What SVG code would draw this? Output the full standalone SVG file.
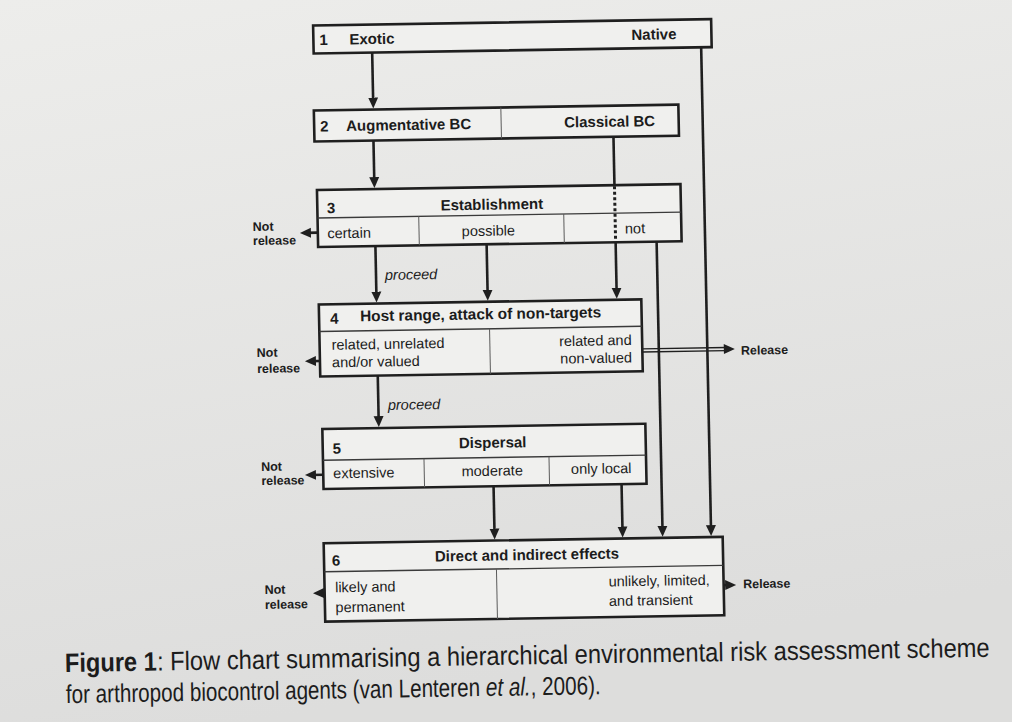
<svg xmlns="http://www.w3.org/2000/svg" width="1012" height="722" viewBox="0 0 1012 722">
<defs>
<linearGradient id="paper" x1="0" y1="0" x2="0.25" y2="1">
<stop offset="0" stop-color="#ededeb"/>
<stop offset="1" stop-color="#dddddc"/>
</linearGradient>
<marker id="ah" markerUnits="userSpaceOnUse" markerWidth="12" markerHeight="12" refX="5" refY="5" orient="auto" viewBox="0 0 12 10">
<path d="M0,0 L11,5 L0,10 z" fill="#1f1f1f"/>
</marker>
<style>
.box{fill:#f0f0ee;stroke:#1f1f1f;stroke-width:2.6}
.hd{stroke:#3a3a3a;stroke-width:1.4}
.dv{stroke:#5a5a5a;stroke-width:1}
.c{stroke:#1f1f1f;stroke-width:2.6;fill:none}
.ca{stroke:#1f1f1f;stroke-width:2.6;fill:none;marker-end:url(#ah)}
.dd{stroke:#1f1f1f;stroke-width:1.3;fill:none}
.dot{stroke:#1f1f1f;stroke-width:3;stroke-dasharray:3 2.5;fill:none}
text{font-family:"Liberation Sans",Arial,sans-serif;fill:#1c1c1c}
.b{font-weight:bold;font-size:15px}
.r{font-size:14.5px}
.s{font-weight:bold;font-size:12.5px}
.i{font-style:italic;font-size:14.5px}
.m{text-anchor:middle}
.e{text-anchor:end}
.c1{font-size:23.7px}
.c2{font-size:20.7px}
</style>
</defs>
<rect width="1012" height="722" fill="url(#paper)"/>
<g transform="matrix(1,-0.016,0.0204,1,-7.36,8.10)">
<g id="connectors">
<path class="ca" d="M378.5,50.5 V100.5"/>
<path class="ca" d="M378,138.5 V180"/>
<path class="c" d="M618,138.5 V187"/>
<path class="ca" d="M618,244 V294.5"/>
<path class="ca" d="M707.5,50.5 V533.3"/>
<path class="ca" d="M377.8,244 V294.5"/>
<path class="ca" d="M489,244 V294.5"/>
<path class="ca" d="M659,244 V533.3"/>
<path class="ca" d="M377.5,373.5 V419"/>
<path class="ca" d="M491,486 V533.3"/>
<path class="ca" d="M619,486 V533.3"/>
<path class="ca" d="M320.5,229.7 H308.6"/>
<path class="ca" d="M320,358 H311"/>
<path class="ca" d="M321,471.8 H308.7"/>
<path class="ca" d="M320,590 H314.3"/>
<path class="dd" d="M642.5,351 H726 M642.5,354.2 H726"/>
<polygon points="724,347.6 735,352.6 724,357.6" fill="#1f1f1f"/>
<path class="ca" d="M719,588.5 H725.5"/>
<text class="i" x="386.7" y="278">proceed</text>
<text class="i" x="387" y="408">proceed</text>
</g>
<g id="n1">
<rect class="box" x="320" y="22.5" width="398" height="28"/>
<text class="b" x="326" y="42">1</text>
<text class="b" x="356" y="42">Exotic</text>
<text class="b e" x="683" y="42">Native</text>
</g>
<g id="n2">
<rect class="box" x="319" y="107.5" width="364.5" height="31"/>
<line class="dv" x1="506" y1="107.5" x2="506" y2="138.5"/>
<text class="b" x="325" y="128.5">2</text>
<text class="b" x="351" y="128.5">Augmentative BC</text>
<text class="b" x="569" y="128.5">Classical BC</text>
</g>
<g id="n3">
<rect class="box" x="320.5" y="187" width="363.5" height="57"/>
<line class="hd" x1="320.5" y1="215" x2="684" y2="215"/>
<line class="dv" x1="421.7" y1="215" x2="421.7" y2="244"/>
<line class="dv" x1="566.7" y1="215" x2="566.7" y2="244"/>
<path class="dot" d="M618,188 V243"/>
<text class="b" x="330" y="210.5">3</text>
<text class="b m" x="495" y="209.5">Establishment</text>
<text class="r" x="330" y="235.5">certain</text>
<text class="r m" x="491" y="235.5">possible</text>
<text class="r" x="627.6" y="235.5">not</text>
</g>
<g id="n4">
<rect class="box" x="320" y="301.5" width="322.5" height="72"/>
<line class="hd" x1="320" y1="328.5" x2="642.5" y2="328.5"/>
<line class="dv" x1="490.2" y1="328.5" x2="490.2" y2="373.5"/>
<text class="b" x="331" y="321">4</text>
<text class="b" x="361" y="319" style="font-size:15.4px">Host range, attack of non-targets</text>
<text class="r" x="332" y="347">related, unrelated</text>
<text class="r" x="332" y="364.5">and/or valued</text>
<text class="r e" x="632" y="347">related and</text>
<text class="r e" x="632" y="364.5">non-valued</text>
</g>
<g id="n5">
<rect class="box" x="321" y="426" width="323" height="60"/>
<line class="hd" x1="321" y1="457.3" x2="644" y2="457.3"/>
<line class="dv" x1="422" y1="457.3" x2="422" y2="486"/>
<line class="dv" x1="547" y1="457.3" x2="547" y2="486"/>
<text class="b" x="331" y="451">5</text>
<text class="b m" x="491" y="447.5">Dispersal</text>
<text class="r" x="331" y="475.5">extensive</text>
<text class="r m" x="490" y="475.5">moderate</text>
<text class="r m" x="599" y="475">only local</text>
</g>
<g id="n6">
<rect class="box" x="320" y="540.3" width="399" height="78.4"/>
<line class="hd" x1="320" y1="568.8" x2="719" y2="568.8"/>
<line class="dv" x1="492.2" y1="568.8" x2="492.2" y2="618.7"/>
<text class="b" x="328" y="563">6</text>
<text class="b m" x="523" y="560.3">Direct and indirect effects</text>
<text class="r" x="330.5" y="589.5">likely and</text>
<text class="r" x="330.5" y="609.5">permanent</text>
<text class="r" x="604" y="588">unlikely, limited,</text>
<text class="r" x="604" y="607.5">and transient</text>
</g>
<g id="out3"><text class="s" x="255.5" y="227">Not</text><text class="s" x="255.5" y="241">release</text></g>
<g id="out4"><text class="s" x="257" y="353">Not</text><text class="s" x="257" y="369">release</text></g>
<g id="out5"><text class="s" x="259" y="467">Not</text><text class="s" x="259" y="481">release</text></g>
<g id="out6"><text class="s" x="260" y="590">Not</text><text class="s" x="260" y="605">release</text></g>
<g id="rel4"><text class="s" x="741" y="358.5">Release</text></g>
<g id="rel6"><text class="s" x="738.5" y="592">Release</text></g>
</g>
<g id="caption">
<g transform="translate(65,672) rotate(-0.95) scale(1,1.12)">
<text class="c1" x="0" y="0" font-weight="bold" textLength="92" lengthAdjust="spacingAndGlyphs">Figure 1</text>
<text class="c1" x="92.2" y="0" textLength="263.5" lengthAdjust="spacingAndGlyphs">: Flow chart summarising</text>
<text class="c1" x="362.3" y="0" textLength="296.5" lengthAdjust="spacingAndGlyphs">a hierarchical environmental</text>
<text class="c1" x="665.4" y="0" textLength="259.5" lengthAdjust="spacingAndGlyphs">risk assessment scheme</text>
</g>
<g transform="translate(66,703) rotate(-0.95) scale(1,1.24)">
<text class="c2" x="0" y="0" textLength="213.5" lengthAdjust="spacingAndGlyphs">for arthropod biocontrol</text>
<text class="c2" x="219.2" y="0" textLength="195" lengthAdjust="spacingAndGlyphs">agents (van Lenteren</text>
<text class="c2" x="420.1" y="0" font-style="italic" textLength="44.8" lengthAdjust="spacingAndGlyphs">et al.</text>
<text class="c2" x="464.9" y="0" textLength="70" lengthAdjust="spacingAndGlyphs">, 2006).</text>
</g>
</g>
</svg>
